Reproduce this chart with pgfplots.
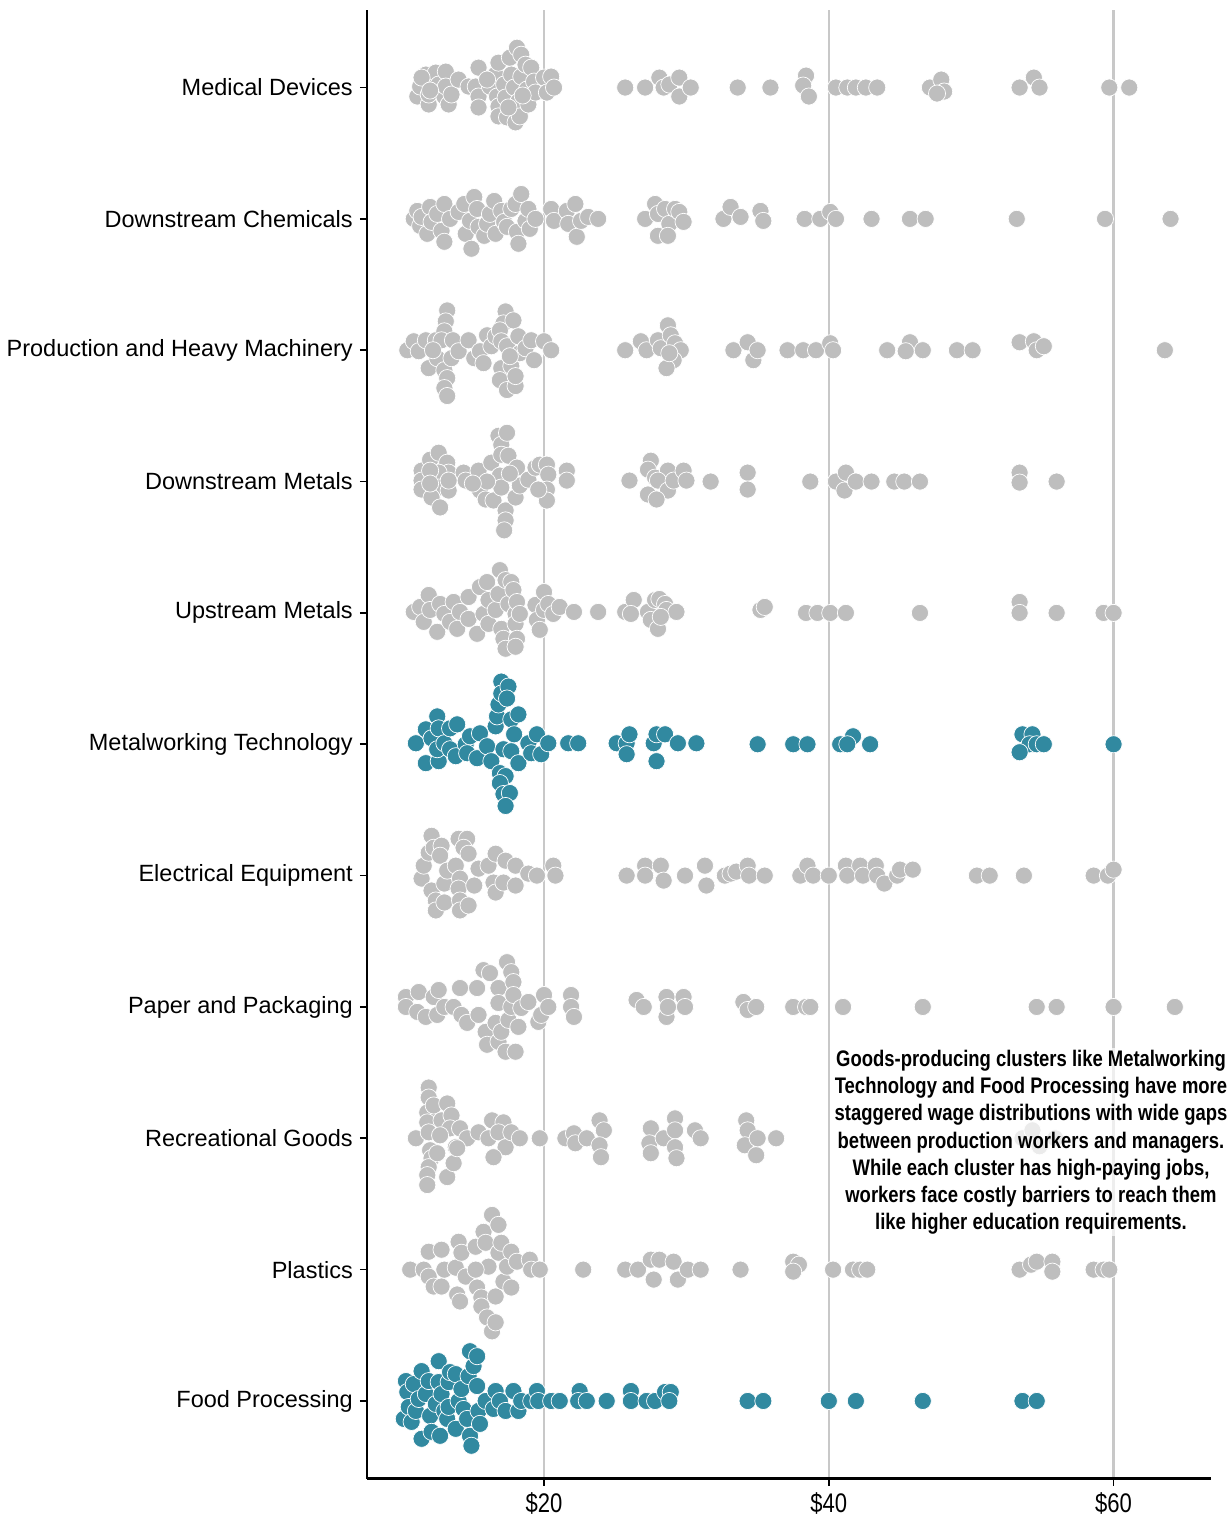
\documentclass[border=0pt]{standalone}
\usepackage{fontspec}
\setmainfont{Liberation Sans}
\newfontfamily\nr[FakeStretch=0.82]{Liberation Sans}
\newfontfamily\nb[FakeStretch=0.82]{Liberation Sans Bold}
\usepackage{pgfplots}
\pgfplotsset{compat=1.18}
\definecolor{dotgray}{RGB}{190,190,190}
\definecolor{teal}{RGB}{49,137,160}
\definecolor{gridgray}{RGB}{200,200,200}
\pgfplotsset{
  gdot/.style={only marks, mark=*, mark size=4.3pt,
    mark options={fill=dotgray, draw=white, line width=0.35pt}},
  tdot/.style={only marks, mark=*, mark size=4.3pt,
    mark options={fill=teal, draw=white, line width=0.35pt}},
}
\begin{document}
\begin{tikzpicture}
\begin{axis}[
  name=ax,
  scale only axis,
  width=424pt, height=737.5pt,
  xmin=7.55, xmax=66.85,
  ymin=-78, ymax=1398,
  axis lines*=left,
  axis line style={line width=1.2pt},
  tick align=outside,
  major tick length=3.5pt,
  tick style={black, line width=0.8pt},
  xtick={20,40,60},
  xticklabels={\$20,\$40,\$60},
  xticklabel style={font=\nr\fontsize{13.5}{15}\selectfont},
  ytick={0,132,...,1320},
  yticklabels={Food Processing,Plastics,Recreational Goods,Paper and Packaging,Electrical Equipment,Metalworking Technology,Upstream Metals,Downstream Metals,Production and Heavy Machinery,Downstream Chemicals,Medical Devices},
  yticklabel style={font=\fontsize{11.8}{14}\selectfont},
  xmajorgrids,
  grid style={gridgray, line width=1.2pt},
  clip mode=individual,
]
% Medical Devices
\addplot[gdot] table[row sep=\\, x=x, y expr=\thisrow{dy}+1320] {
x dy\\
11.1 -9\\ 11.3 1\\ 11.7 13\\ 11.9 -17\\ 11.9 -7\\ 12.1 3\\ 12.4 15\\ 12.6 3\\ 13.0 -9\\ 13.1 16\\
13.1 1\\ 13.3 -17\\ 13.5 -7\\ 14.0 8\\ 11.4 10\\ 12.0 -3\\ 14.7 1\\ 15.2 1\\ 15.4 20\\ 15.4 -9\\
15.4 -20\\ 16.2 1\\ 16.6 13\\ 16.8 25\\ 16.7 -9\\ 16.8 -19\\ 16.8 -29\\ 17.2 3\\ 17.3 -10\\ 17.4 -30\\
17.6 30\\ 17.7 13\\ 17.9 0\\ 18.0 -35\\ 18.1 40\\ 18.2 -14\\ 18.3 -29\\ 18.4 33\\ 18.4 11\\ 18.7 23\\
18.8 -2\\ 18.9 -17\\ 19.1 20\\ 19.3 6\\ 19.4 -5\\ 16.0 8\\ 17.5 -20\\ 18.5 -8\\ 20.0 10\\ 20.2 -5\\
20.5 11\\ 20.7 0\\ 25.7 0\\ 27.1 0\\ 28.1 10\\ 28.4 0\\ 28.8 3\\ 29.5 10\\ 29.5 -9\\ 30.3 0\\
33.6 0\\ 35.9 0\\ 38.4 12\\ 38.2 2\\ 38.6 -9\\ 40.5 0\\ 41.3 0\\ 41.9 0\\ 42.6 0\\ 43.4 0\\
47.1 0\\ 47.9 8\\ 48.1 -4\\ 47.6 -6\\ 53.4 0\\ 54.4 10\\ 54.8 0\\ 59.7 0\\ 61.1 0\\
};
% Downstream Chemicals
\addplot[gdot] table[row sep=\\, x=x, y expr=\thisrow{dy}+1188] {
x dy\\
10.85 0\\ 11.1 8\\ 11.3 -7\\ 11.4 2\\ 11.8 -15\\ 12.0 12\\ 12.1 -3\\ 12.5 5\\ 12.8 -12\\ 13.0 -23\\
13.0 15\\ 13.4 0\\ 14.0 7\\ 14.4 15\\ 14.5 -15\\ 14.8 -2\\ 14.9 -30\\ 15.1 22\\ 15.3 10\\ 15.4 -8\\
15.8 -17\\ 16.0 -5\\ 16.2 5\\ 16.5 18\\ 16.6 -15\\ 17.0 8\\ 17.2 -3\\ 17.4 -8\\ 17.7 10\\ 18.0 15\\
18.1 -13\\ 18.2 -25\\ 18.4 25\\ 18.7 -2\\ 18.9 10\\ 19.0 -10\\ 19.4 0\\ 20.5 10\\ 20.7 -2\\ 21.6 8\\
21.7 -5\\ 22.2 15\\ 22.3 -18\\ 22.6 -2\\ 23.1 2\\ 23.8 0\\ 27.1 0\\ 27.8 15\\ 28.0 5\\ 28.5 10\\
28.8 -5\\ 28.0 -17\\ 28.7 -17\\ 29.2 10\\ 29.5 7\\ 29.8 -3\\ 32.6 0\\ 33.1 12\\ 33.8 2\\ 35.2 8\\
35.4 -2\\ 38.3 0\\ 39.4 0\\ 40.1 7\\ 40.5 0\\ 43.0 0\\ 45.7 0\\ 46.8 0\\ 53.2 0\\ 59.4 0\\ 64.0 0\\
};
% Production and Heavy Machinery
\addplot[gdot] table[row sep=\\, x=x, y expr=\thisrow{dy}+1056] {
x dy\\
10.4 0\\ 10.85 9\\ 11.2 -1\\ 11.7 10\\ 11.9 -18\\ 12.4 10\\ 12.5 -8\\ 13.2 40\\ 13.1 29\\ 13.0 19\\
12.8 10\\ 13.0 -20\\ 13.2 -28\\ 13.0 -38\\ 13.2 -46\\ 13.6 10\\ 13.5 -8\\ 14.0 -1\\ 14.7 10\\ 15.1 -8\\
15.5 -1\\ 15.75 -13\\ 16.0 15\\ 16.3 4\\ 16.6 14\\ 17.3 39\\ 17.15 27\\ 17.85 30\\ 16.9 20\\ 17.0 9\\
17.4 4\\ 17.0 -18\\ 16.9 -30\\ 17.4 -40\\ 18.0 -36\\ 17.7 -16\\ 18.0 -26\\ 18.2 14\\ 18.3 -3\\ 17.6 -6\\
18.7 2\\ 19.1 10\\ 19.3 -10\\ 20.0 9\\ 20.5 0\\ 12.2 0\\ 25.7 0\\ 26.8 9\\ 27.2 0\\ 28.0 10\\
28.2 2\\ 28.7 25\\ 28.9 15\\ 29.2 7\\ 29.6 0\\ 29.1 -10\\ 28.6 -18\\ 28.8 -3\\ 33.3 0\\ 34.3 8\\
34.7 -10\\ 35.0 0\\ 37.1 0\\ 38.2 0\\ 39.1 0\\ 40.1 7\\ 40.3 0\\ 44.1 0\\ 45.7 8\\ 45.4 -1\\
46.6 0\\ 49.0 0\\ 50.1 0\\ 53.4 8\\ 54.4 9\\ 54.6 0\\ 55.1 4\\ 63.6 0\\
};
% Downstream Metals
\addplot[gdot] table[row sep=\\, x=x, y expr=\thisrow{dy}+924] {
x dy\\
11.4 11\\ 11.4 1\\ 11.4 -8\\ 12.0 22\\ 12.6 29\\ 13.2 19\\ 13.3 9\\ 12.6 9\\ 12.0 11\\ 12.6 -6\\
12.1 -16\\ 12.7 -26\\ 13.3 -9\\ 13.3 1\\ 12.0 -2\\ 14.35 9\\ 14.5 1\\ 15.4 11\\ 15.5 -9\\ 15.9 -18\\
16.3 19\\ 16.45 -19\\ 16.8 46\\ 17.0 37\\ 17.4 49\\ 17.0 27\\ 17.5 26\\ 16.9 6\\ 17.0 -6\\ 17.3 -29\\
17.3 -39\\ 17.2 -49\\ 18.0 -16\\ 18.1 14\\ 18.3 -4\\ 18.9 2\\ 19.4 14\\ 19.7 17\\ 20.2 17\\ 20.3 7\\
20.2 -8\\ 20.2 -19\\ 19.6 -8\\ 21.6 11\\ 21.6 1\\ 16.0 0\\ 17.6 8\\ 15.0 -2\\ 26.0 1\\ 27.5 21\\
27.3 12\\ 27.8 4\\ 28.7 11\\ 28.0 1\\ 28.7 -9\\ 27.3 -13\\ 27.9 -18\\ 29.1 1\\ 29.8 11\\ 30.0 1\\
31.7 0\\ 34.3 9\\ 34.3 -8\\ 38.7 0\\ 40.5 0\\ 41.2 9\\ 41.1 -9\\ 41.9 0\\ 43.0 0\\ 44.6 0\\
45.3 0\\ 46.4 0\\ 53.4 9\\ 53.4 -1\\ 56.0 0\\
};
% Upstream Metals
\addplot[gdot] table[row sep=\\, x=x, y expr=\thisrow{dy}+792] {
x dy\\
10.85 1\\ 11.3 6\\ 11.55 -9\\ 11.9 18\\ 12.0 3\\ 12.5 -19\\ 12.7 9\\ 13.0 -1\\ 13.4 -9\\ 13.65 11\\
13.9 -16\\ 14.1 1\\ 14.7 16\\ 14.7 -6\\ 15.3 -21\\ 15.5 26\\ 15.75 -1\\ 16.0 31\\ 16.1 13\\ 16.1 -11\\
16.6 3\\ 16.8 19\\ 16.9 43\\ 17.0 -16\\ 17.15 -26\\ 17.3 33\\ 17.3 -36\\ 17.5 9\\ 17.7 31\\ 17.85 23\\
18.0 -1\\ 18.0 -11\\ 18.1 -26\\ 18.0 -34\\ 18.1 11\\ 18.3 -1\\ 19.4 8\\ 19.5 -7\\ 19.7 -17\\ 20.0 21\\
20.0 3\\ 20.3 9\\ 20.65 -1\\ 21.1 6\\ 22.1 1\\ 23.8 1\\ 25.7 1\\ 26.3 13\\ 26.1 -1\\ 27.3 1\\
27.5 -7\\ 28.0 -16\\ 27.8 13\\ 28.1 14\\ 28.5 9\\ 28.6 3\\ 29.3 1\\ 28.2 -4\\ 35.2 3\\ 35.5 6\\
38.4 0\\ 39.2 0\\ 40.1 0\\ 41.2 0\\ 46.4 0\\ 53.4 11\\ 53.4 0\\ 56.0 0\\ 59.3 0\\ 60.0 0\\
};
% Metalworking Technology
\addplot[tdot] table[row sep=\\, x=x, y expr=\thisrow{dy}+660] {
x dy\\
11.0 1\\ 11.7 15\\ 11.7 -19\\ 12.1 6\\ 12.5 28\\ 12.6 16\\ 12.6 -17\\ 12.5 -5\\ 13.0 1\\ 13.4 16\\
13.4 -5\\ 13.8 -12\\ 13.9 20\\ 14.5 0\\ 14.8 8\\ 14.6 -9\\ 15.3 -14\\ 15.5 11\\ 16.0 -2\\ 16.3 -17\\
16.6 18\\ 16.7 28\\ 16.8 40\\ 17.0 63\\ 17.0 51\\ 17.5 58\\ 17.4 46\\ 17.7 25\\ 18.2 30\\ 17.9 10\\
17.15 -5\\ 17.7 -7\\ 18.2 -19\\ 16.9 -29\\ 17.3 -32\\ 16.9 -39\\ 17.15 -50\\ 17.6 -49\\ 17.3 -62\\ 18.9 1\\
19.1 -9\\ 19.5 10\\ 19.8 -10\\ 20.3 1\\ 21.7 1\\ 22.4 1\\ 25.1 1\\ 25.8 1\\ 26.0 10\\ 25.8 -10\\
27.7 1\\ 27.9 10\\ 28.5 10\\ 27.9 -17\\ 29.4 1\\ 30.7 1\\ 35.0 0\\ 37.5 0\\ 38.5 0\\ 40.8 0\\
41.7 8\\ 41.3 0\\ 42.9 0\\ 53.6 10\\ 54.3 10\\ 54.1 0\\ 54.6 0\\ 55.1 0\\ 53.4 -8\\ 60.0 0\\
};
% Electrical Equipment
\addplot[gdot] table[row sep=\\, x=x, y expr=\thisrow{dy}+528] {
x dy\\
11.4 -3\\ 11.55 10\\ 11.9 23\\ 12.1 40\\ 12.25 28\\ 12.8 30\\ 12.7 20\\ 12.1 -15\\ 12.4 -25\\ 12.4 -35\\
13.0 -27\\ 13.0 -8\\ 13.2 5\\ 13.8 10\\ 14.0 37\\ 14.6 37\\ 14.35 28\\ 14.7 22\\ 14.1 -3\\ 14.0 -13\\
14.1 -25\\ 14.1 -35\\ 14.7 -30\\ 15.1 -10\\ 15.4 7\\ 16.1 10\\ 16.6 22\\ 16.45 -7\\ 16.6 -17\\ 17.3 15\\
17.15 -7\\ 18.0 10\\ 18.0 -10\\ 18.9 2\\ 19.5 0\\ 20.65 10\\ 20.8 0\\ 25.8 0\\ 27.1 10\\ 27.1 0\\
28.2 10\\ 28.4 -5\\ 29.9 0\\ 31.3 10\\ 31.4 -10\\ 32.7 0\\ 33.1 2\\ 33.5 4\\ 34.3 10\\ 34.4 0\\
35.5 0\\ 38.0 0\\ 38.5 10\\ 38.9 0\\ 40.0 0\\ 41.2 10\\ 41.3 0\\ 42.2 10\\ 42.4 0\\ 43.3 10\\
43.4 0\\ 43.9 -8\\ 44.8 0\\ 45.0 6\\ 45.9 6\\ 50.4 0\\ 51.3 0\\ 53.7 0\\ 58.6 0\\ 59.6 0\\ 60.0 6\\
};
% Paper and Packaging
\addplot[gdot] table[row sep=\\, x=x, y expr=\thisrow{dy}+396] {
x dy\\
10.3 10\\ 10.3 0\\ 11.2 15\\ 11.1 -5\\ 11.7 -10\\ 12.25 10\\ 12.5 -8\\ 12.6 17\\ 13.0 0\\ 13.65 0\\
14.1 19\\ 14.2 -8\\ 14.6 -16\\ 15.3 19\\ 15.4 -8\\ 15.75 37\\ 15.9 -25\\ 16.0 -38\\ 16.2 34\\ 16.6 -16\\
16.8 19\\ 16.8 4\\ 16.8 -35\\ 17.0 -25\\ 17.4 45\\ 17.3 -45\\ 17.5 -13\\ 17.7 35\\ 17.85 25\\ 18.0 -45\\
17.7 0\\ 17.85 12\\ 18.2 -20\\ 18.4 -1\\ 18.9 5\\ 19.6 -15\\ 19.8 -8\\ 20.0 12\\ 20.3 0\\ 21.9 12\\
21.9 0\\ 22.1 -10\\ 26.5 7\\ 27.0 0\\ 28.6 10\\ 28.6 -10\\ 29.8 10\\ 29.9 0\\ 28.7 0\\ 34.0 5\\
34.3 -3\\ 34.9 0\\ 37.5 0\\ 38.4 0\\ 38.7 0\\ 41.0 0\\ 46.6 0\\ 54.6 0\\ 56.0 0\\ 60.0 0\\ 64.3 0\\
};
% Recreational Goods
\addplot[gdot] table[row sep=\\, x=x, y expr=\thisrow{dy}+264] {
x dy\\
11.0 0\\ 11.9 51\\ 11.9 41\\ 11.8 26\\ 11.8 16\\ 11.9 6\\ 12.25 33\\ 13.2 35\\ 12.8 18\\ 13.5 23\\
13.4 10\\ 14.1 10\\ 14.6 0\\ 13.8 -9\\ 12.0 -12\\ 12.1 -20\\ 11.9 -29\\ 11.8 -37\\ 11.8 -47\\ 12.5 -15\\
13.2 -39\\ 13.65 -25\\ 13.9 -10\\ 12.7 3\\ 15.4 6\\ 16.1 0\\ 16.35 18\\ 17.15 16\\ 16.8 6\\ 17.3 -9\\
16.45 -19\\ 17.7 6\\ 18.3 0\\ 19.7 0\\ 21.5 0\\ 22.1 5\\ 22.2 -5\\ 23.0 0\\ 23.9 18\\ 24.2 8\\
23.9 -7\\ 24.0 -19\\ 27.5 10\\ 27.4 -5\\ 27.5 -15\\ 28.4 0\\ 29.2 20\\ 29.2 8\\ 29.2 -9\\ 29.3 -20\\
30.6 8\\ 31.0 0\\ 34.2 18\\ 34.3 8\\ 34.1 -7\\ 34.9 -17\\ 35.0 0\\ 36.3 0\\ 53.6 0\\ 54.3 8\\
54.8 -8\\ 55.9 0\\
};
% Plastics
\addplot[gdot] table[row sep=\\, x=x, y expr=\thisrow{dy}+132] {
x dy\\
10.6 0\\ 11.55 0\\ 11.9 18\\ 11.9 -7\\ 12.25 -17\\ 12.8 20\\ 12.8 -17\\ 13.0 0\\ 13.8 2\\ 14.0 28\\
13.9 -25\\ 14.1 -32\\ 14.2 17\\ 14.5 -7\\ 15.2 23\\ 15.3 -18\\ 15.6 -28\\ 15.75 38\\ 15.9 27\\ 15.6 -37\\
16.0 -48\\ 16.35 55\\ 16.35 -62\\ 16.6 -53\\ 16.8 45\\ 16.8 17\\ 16.6 -27\\ 17.0 27\\ 17.15 -12\\ 17.4 3\\
17.7 18\\ 17.7 -18\\ 18.1 8\\ 16.1 3\\ 15.2 0\\ 19.0 10\\ 19.1 0\\ 19.7 0\\ 22.75 0\\ 25.7 0\\
26.6 0\\ 27.5 10\\ 28.1 10\\ 27.7 -10\\ 29.1 8\\ 29.4 -10\\ 30.1 0\\ 31.0 0\\ 33.8 0\\ 37.5 8\\
37.9 5\\ 37.5 -2\\ 40.3 0\\ 41.7 0\\ 42.2 0\\ 42.7 0\\ 53.4 0\\ 54.2 5\\ 54.6 8\\ 55.7 8\\
55.7 -2\\ 58.6 0\\ 59.3 0\\ 59.7 0\\
};
% Food Processing
\addplot[tdot] table[row sep=\\, x=x, y expr=\thisrow{dy}] {
x dy\\
10.15 -18\\ 10.3 20\\ 10.4 9\\ 10.5 -6\\ 10.7 -21\\ 10.85 17\\ 11.0 -10\\ 11.2 2\\ 11.4 30\\ 11.4 -38\\
11.7 7\\ 11.9 20\\ 12.0 -15\\ 12.1 -31\\ 12.4 -3\\ 12.6 40\\ 12.6 19\\ 12.7 -35\\ 12.8 7\\ 13.0 -10\\
13.2 -18\\ 13.3 19\\ 13.4 29\\ 13.3 -6\\ 13.8 27\\ 13.8 -28\\ 14.0 0\\ 14.2 12\\ 14.35 -8\\ 14.6 -18\\
14.7 25\\ 14.8 50\\ 14.8 -35\\ 14.9 -45\\ 15.05 35\\ 15.3 45\\ 15.3 15\\ 15.4 -10\\ 15.5 -23\\ 15.9 0\\
16.45 -8\\ 16.6 10\\ 16.9 0\\ 17.3 -10\\ 17.85 10\\ 18.2 -10\\ 18.4 0\\ 19.1 0\\ 19.5 10\\ 19.6 0\\
20.5 0\\ 21.1 0\\ 22.5 10\\ 22.4 0\\ 23.0 0\\ 24.4 0\\ 26.1 10\\ 26.1 0\\ 27.2 0\\ 27.8 0\\
28.5 9\\ 28.9 9\\ 28.8 0\\ 34.3 0\\ 35.4 0\\ 40.0 0\\ 41.9 0\\ 46.6 0\\ 53.6 0\\ 54.6 0\\
};
\node[align=center, fill=white, fill opacity=0.7, text opacity=1, inner sep=1pt,
  font=\nb\fontsize{11.3}{13.6}\selectfont] at (axis cs:54.2,260)
  {Goods-producing clusters like Metalworking\\
   Technology and Food Processing have more\\
   staggered wage distributions with wide gaps\\
   between production workers and managers.\\
   While each cluster has high-paying jobs,\\
   workers face costly barriers to reach them\\
   like higher education requirements.};
\end{axis}
\path ([yshift=5pt]ax.north west);
\end{tikzpicture}
\end{document}
